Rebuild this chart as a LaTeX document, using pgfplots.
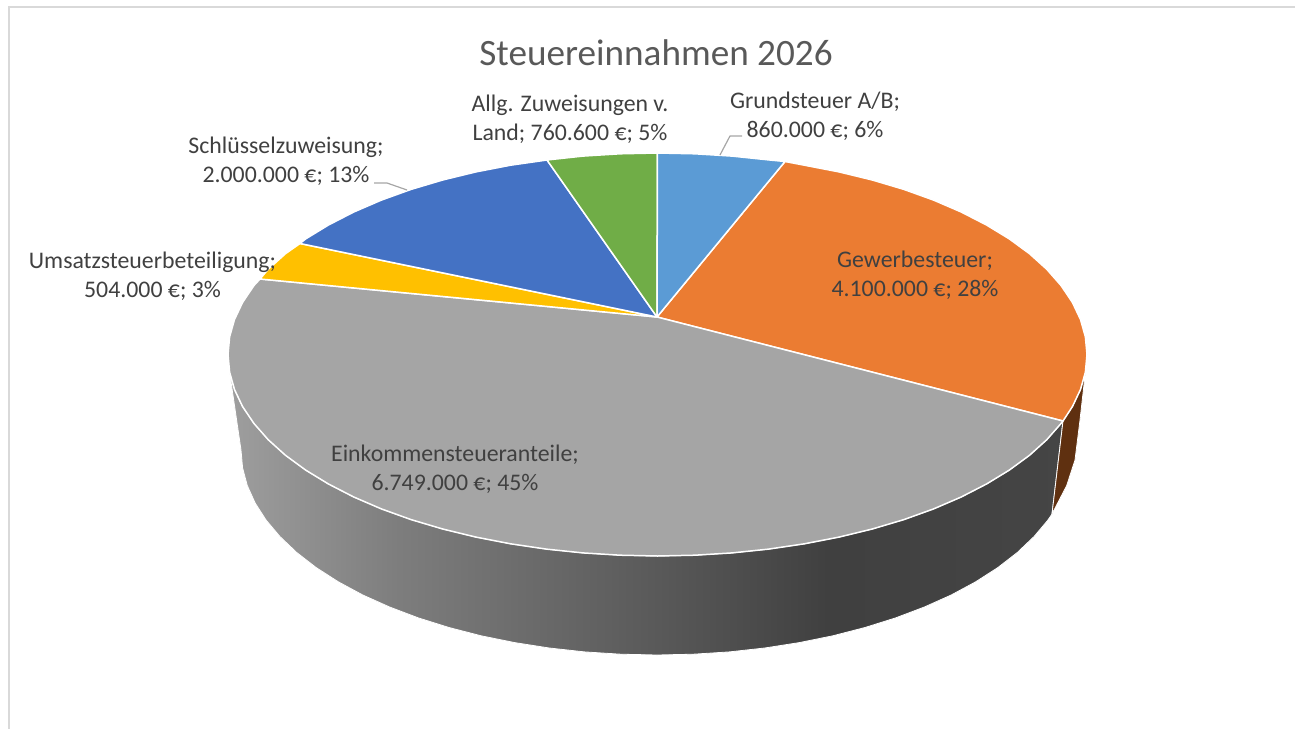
\documentclass[border=0pt]{standalone}
\usepackage{pgfplots}
\pgfplotsset{compat=1.18}
\usepackage{fontspec}
\setmainfont{Carlito}
\definecolor{cBlue}{HTML}{5B9BD5}
\definecolor{cOrange}{HTML}{EB7C32}
\definecolor{cGrey}{HTML}{A5A5A5}
\definecolor{cYellow}{HTML}{FFC000}
\definecolor{cDark}{HTML}{4472C4}
\definecolor{cGreen}{HTML}{70AD47}
\definecolor{cBrown}{HTML}{5F3010}
\definecolor{cTxt}{HTML}{404040}
\definecolor{cTitle}{HTML}{595959}
\definecolor{cFrame}{HTML}{D9D9D9}
\definecolor{cLead}{HTML}{A6A6A6}
\pgfdeclarehorizontalshading{wallgrad}{100bp}{
 color(0bp)=(black!38);
 color(25bp)=(black!38);
 color(35.2bp)=(black!51);
 color(50.6bp)=(black!65);
 color(61bp)=(black!75);
 color(75bp)=(black!73);
 color(100bp)=(black!73)}
\newcommand{\lab}{\fontsize{23.8bp}{28.6bp}\selectfont}
\begin{document}
\begin{tikzpicture}
\useasboundingbox (0,0) rectangle (1295bp,729bp);
\begin{axis}[
  at={(0,0)},anchor=south west,
  width=1295bp,height=729bp,scale only axis,
  xmin=0,xmax=1295,ymin=0,ymax=729,y dir=reverse,
  hide axis,clip=false,
  every axis plot/.append style={mark=none,line join=round},
]
% frame
\addplot[cFrame,line width=1.2bp] coordinates {(1295,7)(9,7)};
\addplot[cFrame,line width=2.4bp] coordinates {(9,6.5)(9,729)};
% side wall, grey slice
\addplot[shade,shading=wallgrad,draw=white,line width=0.8bp] coordinates {
(1063,421)(1052,514)(1047.9,520.1)(1034,536.6)(1017.3,552.5)(997.8,567.6)(975.7,581.8)(951.2,595)(924.4,607)(895.6,617.9)(865,627.5)(832.8,635.8)(799.3,642.6)(764.7,648)(729.2,651.9)(693.3,654.2)(657,655)
(620.7,654.2)(584.8,651.9)(549.3,648)(514.7,642.6)(481.2,635.8)(449,627.5)(418.4,617.9)(389.6,607)(362.8,595)(338.3,581.8)(316.2,567.6)(296.7,552.5)(280,536.6)(266.1,520.1)(255.2,503.1)(247.3,485.6)(242.6,467.9)(241,450)
(229.6,372.1)(234.5,389.5)(242.6,406.6)(253.9,423.4)(268.2,439.7)(285.5,455.3)(305.7,470.1)(328.5,484)(353.8,497)(381.4,508.9)(411.1,519.6)(442.7,529)(476,537.1)(510.6,543.8)(546.3,549.1)(582.9,552.9)(620.1,555.2)(657.5,556)
(694.9,555.2)(732.1,552.9)(768.7,549.1)(804.4,543.8)(839,537.1)(872.3,529)(903.9,519.6)(933.6,508.9)(961.2,497)(986.5,484)(1009.3,470.1)(1029.5,455.3)(1046.8,439.7)(1061.1,423.4)(1063,421)};
% side wall, orange slice
\addplot[fill=cBrown,draw=white,line width=0.8bp] coordinates {
(1063,421)(1072.4,406.6)(1080.5,389.5)(1085.4,372.1)(1080,420)(1075,460)(1066.7,485.6)(1052,514)(1063,421)};
% Gewerbesteuer
\addplot[fill=cOrange,draw=white,line width=1.5bp] coordinates {
(657,317)(785,161.5)(804.4,165.2)(839,171.9)(872.3,180)(903.9,189.4)(933.6,200.1)(961.2,212)(986.5,225)(1009.3,238.9)(1029.5,253.7)(1046.8,269.3)(1061.1,285.6)(1072.4,302.4)(1080.5,319.5)(1085.4,336.9)(1087,354.5)(1085.4,372.1)(1080.5,389.5)(1072.4,406.6)(1063,421)(657,317)};
% Einkommensteueranteile
\addplot[fill=cGrey,draw=white,line width=1.5bp] coordinates {
(657,317)(1063,421)(1061.1,423.4)(1046.8,439.7)(1029.5,455.3)(1009.3,470.1)(986.5,484)(961.2,497)(933.6,508.9)(903.9,519.6)(872.3,529)(839,537.1)(804.4,543.8)(768.7,549.1)(732.1,552.9)(694.9,555.2)(657.5,556)
(620.1,555.2)(582.9,552.9)(546.3,549.1)(510.6,543.8)(476,537.1)(442.7,529)(411.1,519.6)(381.4,508.9)(353.8,497)(328.5,484)(305.7,470.1)(285.5,455.3)(268.2,439.7)(253.9,423.4)(242.6,406.6)(234.5,389.5)(229.6,372.1)(228,354.5)(229.6,336.9)(234.5,319.5)(242.6,302.4)(253.9,285.6)(260,279)(657,317)};
% Umsatzsteuerbeteiligung
\addplot[fill=cYellow,draw=white,line width=1.5bp] coordinates {
(657,317)(260,279)(268.2,269.3)(285.5,253.7)(300,243.5)(657,317)};
% Schluesselzuweisung
\addplot[fill=cDark,draw=white,line width=1.5bp] coordinates {
(657,317)(300,243.5)(305.7,238.9)(328.5,225)(353.8,212)(381.4,200.1)(411.1,189.4)(442.7,180)(476,171.9)(510.6,165.2)(547,160)(657,317)};
% Allg. Zuweisungen
\addplot[fill=cGreen,draw=white,line width=1.5bp] coordinates {
(657,317)(547,160)(582.9,156.1)(620.1,153.8)(657.5,153)(657,317)};
% Grundsteuer
\addplot[fill=cBlue,draw=white,line width=1.5bp] coordinates {
(657,317)(657.5,153)(694.9,153.8)(732.1,156.1)(768.7,159.9)(785,161.5)(657,317)};
% leader lines
\addplot[cLead,line width=1.2bp] coordinates {(720,155)(730,136)(742,136)};
\addplot[cLead,line width=1.2bp] coordinates {(374,183)(387,183)(407,190)};
% texts
\node[text=cTitle,font=\fontsize{37.2bp}{44bp}\selectfont] at (axis cs:656,53) {Steuereinnahmen 2026};
\node[text=cTxt,font=\lab,align=center] at (axis cs:815,116.5) {Grundsteuer A/B;\\860.000 €; 6\%};
\node[text=cTxt,font=\lab,align=center] at (axis cs:570,119.5) {Allg. Zuweisungen v.\\Land; 760.600 €; 5\%};
\node[text=cTxt,font=\lab,align=center] at (axis cs:286,161) {Schlüsselzuweisung;\\2.000.000 €; 13\%};
\node[text=cTxt,font=\lab,align=center] at (axis cs:152.5,276) {Umsatzsteuerbeteiligung;\\504.000 €; 3\%};
\node[text=cTxt,font=\lab,align=center] at (axis cs:915,275) {Gewerbesteuer;\\4.100.000 €; 28\%};
\node[text=cTxt,font=\lab,align=center] at (axis cs:455,469.5) {Einkommensteueranteile;\\6.749.000 €; 45\%};
\end{axis}
\end{tikzpicture}
\end{document}
